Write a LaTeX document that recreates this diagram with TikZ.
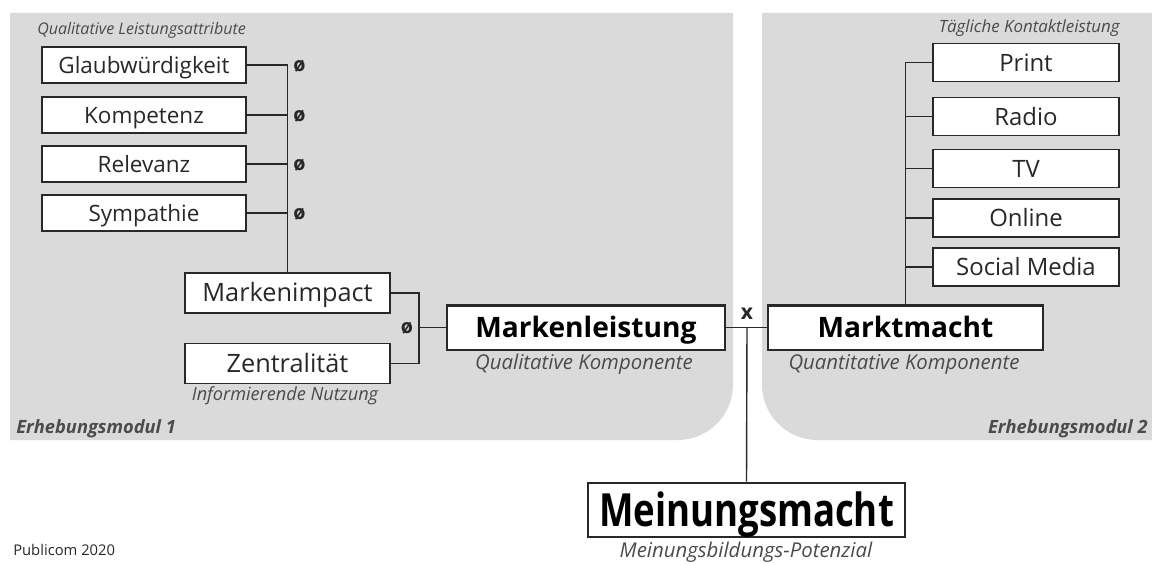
\documentclass[tikz,border=0pt]{standalone}
\usepackage{fontspec}
\usepackage{graphicx}
\setmainfont{Open Sans}
\usetikzlibrary{positioning, calc}
\definecolor{panelgray}{RGB}{218,218,218}
\definecolor{inkgray}{RGB}{40,40,40}
\definecolor{notegray}{RGB}{75,75,75}

\begin{document}
\begin{tikzpicture}[x=0.025cm, y=-0.025cm,
    attrbox/.style={draw=inkgray, line width=1.4pt, fill=white, inner sep=0pt,
        minimum width=5.1cm, minimum height=0.92cm, text=inkgray,
        text height=11.4pt, text depth=0pt, font=\fontsize{16}{18}\selectfont},
    mainbox/.style={attrbox, line width=2pt, minimum height=1.12cm, text=black,
        text height=14.3pt, font=\fontsize{20}{22}\selectfont\bfseries},
    note/.style={text=notegray, inner sep=0pt, font=\fontsize{12}{14}\selectfont\itshape},
    compnote/.style={note, font=\fontsize{14.5}{16}\selectfont\itshape},
    modul/.style={note, font=\fontsize{13}{14}\selectfont\bfseries\itshape},
    link/.style={draw=inkgray, line width=1pt},
    sym/.style={text=inkgray, inner sep=0pt, font=\fontsize{14}{15}\selectfont\bfseries}]

    \useasboundingbox (0,0) rectangle (1152,564);

    \fill[panelgray] (10,13) -- (733,13) -- (733,385)
        .. controls (733,415) and (708,440) .. (678,440) -- (10,440) -- cycle;
    \fill[panelgray] (1152,13) -- (762,13) -- (762,385)
        .. controls (762,415) and (787,440) .. (817,440) -- (1152,440) -- cycle;

    \node[modul, anchor=base west] (modul1) at (16,433) {Erhebungsmodul 1};
    \node[modul, anchor=base east] (modul2) at (1148,433) {Erhebungsmodul 2};

    % qualitative side
    \node[note, anchor=base west, font=\fontsize{11.4}{13}\selectfont\itshape] (attrlabel) at (37,35) {Qualitative Leistungsattribute};
    \foreach \name/\txt/\y in {glaub/Glaubwürdigkeit/65, komp/Kompetenz/115,
                               rel/Relevanz/164, symp/Sympathie/213}
        \node[attrbox] (\name) at (144,\y) {\txt};

    \node[attrbox, minimum width=5.125cm, minimum height=1cm, text height=12.8pt,
        font=\fontsize{18}{20}\selectfont] (markenimpact) at (287.5,293) {Markenimpact};
    \node[attrbox, minimum width=5.125cm, minimum height=1cm, text height=12.8pt,
        font=\fontsize{18}{20}\selectfont] (zentral) at (287.5,363.5) {Zentralität};
    \node[note, anchor=base, font=\fontsize{12.9}{14}\selectfont\itshape] (nutzung) at (285,400) {Informierende Nutzung};

    \draw[link] (glaub.east -| markenimpact.north) -- (markenimpact.north);
    \foreach \name in {glaub, komp, rel, symp} {
        \draw[link] (\name.east) -- (\name.east -| markenimpact.north);
        \node[sym] (\name-avg) at ($(\name.east -| markenimpact.north)+(12,1)$) {ø};
    }

    \node[mainbox, minimum width=6.95cm] (markenleistung) at (586,327.5) {Markenleistung};
    \node[compnote, anchor=base] (qualkomp) at (584,369) {Qualitative Komponente};

    \coordinate (impjoin) at (419,327.5);
    \draw[link] (markenimpact.east) -| (impjoin) |- (zentral.east);
    \draw[link] (impjoin) -- (markenleistung.west);
    \node[sym] (imp-avg) at (407,328) {ø};

    % quantitative side
    \node[mainbox, minimum width=6.875cm] (marktmacht) at (905.5,327.5) {Marktmacht};
    \node[compnote, anchor=base] (quantkomp) at (904,369) {Quantitative Komponente};
    \node[note, anchor=base east] (kontakt) at (1120,33) {Tägliche Kontaktleistung};

    \foreach \name/\txt/\y in {print/Print/62.5, radio/Radio/116.5, tv/TV/168.5,
                               online/Online/218, social/Social Media/267}
        \node[attrbox, minimum width=4.65cm, minimum height=0.95cm, text height=12.1pt,
            font=\fontsize{17}{19}\selectfont] (\name) at (1026,\y) {\txt};

    \draw[link] (print.west -| marktmacht.north) -- (marktmacht.north);
    \foreach \name in {print, radio, tv, online, social}
        \draw[link] (\name.west) -- (\name.west -| marktmacht.north);

    % Meinungsmacht
    \draw[link] (markenleistung.east) -- (marktmacht.west);
    \coordinate (cross) at (747,327.5);
    \node[sym, font=\fontsize{15}{16}\selectfont\bfseries] (times) at (747,314) {x};

    \node[mainbox, minimum width=7.925cm, minimum height=1.35cm, text height=23pt,
        font=\fontsize{26}{28}\selectfont\bfseries] (meinungsmacht) at (746.5,510)
        {\scalebox{1}[1.25]{Meinungsmacht}};
    \node[compnote, anchor=base] (potenzial) at (746,557) {Meinungsbildungs-Potenzial};
    \draw[link] (cross) -- (meinungsmacht.north);

    \node[anchor=base west, inner sep=0pt, text=inkgray,
        font=\fontsize{10.5}{12}\selectfont] (publicom) at (13,555) {Publicom 2020};

\end{tikzpicture}
\end{document}
